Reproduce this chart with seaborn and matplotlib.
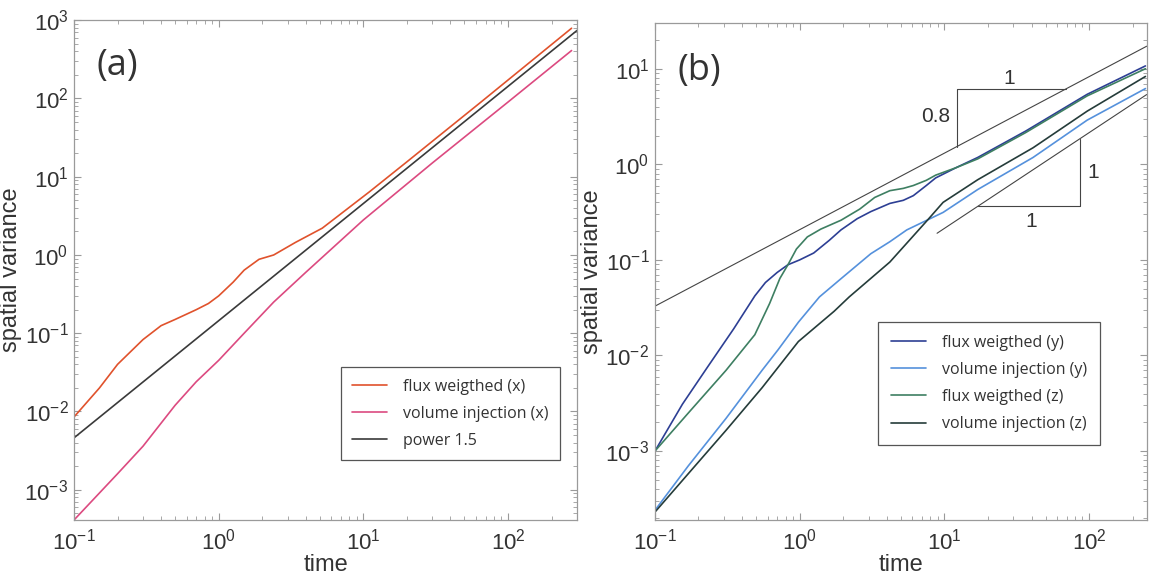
import numpy as np
import pandas as pd
import matplotlib
matplotlib.use("Agg")
import matplotlib.pyplot as plt
import seaborn as sns
from matplotlib.ticker import LogLocator, NullFormatter

# ---------------- panel (a) data ----------------
t_a_flux = [0.1, 0.15, 0.2, 0.3, 0.4, 0.5, 0.7, 0.85, 1.0, 1.26, 1.5, 1.9, 2.4, 3.4, 5.2, 11, 20, 66, 275]
y_a_flux = [0.0085, 0.02, 0.04, 0.083, 0.125, 0.15, 0.2, 0.24, 0.3, 0.45, 0.64, 0.88, 1.0, 1.45, 2.2, 6.4, 15.5, 92, 790]

t_a_vol = [0.1, 0.2, 0.3, 0.5, 0.7, 1.0, 1.5, 2.4, 4, 10, 30, 100, 275]
y_a_vol = [4.1e-4, 1.6e-3, 3.6e-3, 0.012, 0.024, 0.045, 0.1, 0.25, 0.6, 2.8, 15, 90, 410]

t_a_pow = [0.1, 300]
y_a_pow = [0.0046, 740]

labels_a = ["flux weigthed (x)", "volume injection (x)", "power 1.5"]
colors_a = ["#e0522c", "#dc4a80", "#3a3a3a"]

# ---------------- panel (b) data ----------------
t_b_flux_y = [0.1, 0.155, 0.23, 0.35, 0.49, 0.58, 0.7, 0.83, 1.0, 1.25, 1.6, 1.93, 2.5, 3.1, 4.2,
              5.2, 6.1, 7.5, 8.7, 12, 17, 36.5, 97, 245]
y_b_flux_y = [1.0e-3, 3.1e-3, 7.5e-3, 0.019, 0.042, 0.058, 0.074, 0.089, 0.100, 0.118, 0.16, 0.206,
              0.27, 0.32, 0.39, 0.42, 0.47, 0.6, 0.72, 0.92, 1.18, 2.23, 5.4, 10.7]

t_b_vol_y = [0.1, 0.17, 0.31, 0.55, 0.71, 0.98, 1.37, 1.94, 3.1, 4.2, 5.5, 9.8, 17, 41, 97, 245]
y_b_vol_y = [2.4e-4, 7.0e-4, 2.2e-3, 7.0e-3, 0.0115, 0.0223, 0.041, 0.064, 0.116, 0.155, 0.206,
             0.314, 0.545, 1.18, 2.9, 6.2]

t_b_flux_z = [0.1, 0.17, 0.31, 0.49, 0.62, 0.73, 0.83, 0.95, 1.13, 1.4, 1.93, 2.6, 3.3, 4.2, 5.2,
              6.1, 7.5, 8.7, 12, 17, 36.5, 97, 245]
y_b_flux_z = [1.0e-3, 2.5e-3, 7.0e-3, 0.0165, 0.035, 0.064, 0.089, 0.13, 0.174, 0.21, 0.26, 0.34,
              0.45, 0.53, 0.56, 0.6, 0.68, 0.77, 0.92, 1.14, 2.15, 5.2, 10.0]

t_b_vol_z = [0.1, 0.17, 0.31, 0.55, 0.98, 1.73, 2.2, 3.1, 4.2, 7.7, 9.8, 17, 41, 97, 245]
y_b_vol_z = [2.3e-4, 5.8e-4, 1.65e-3, 4.6e-3, 0.014, 0.029, 0.041, 0.064, 0.095, 0.264, 0.40,
             0.69, 1.49, 3.6, 8.3]

labels_b = ["flux weigthed (y)", "volume injection (y)", "flux weigthed (z)", "volume injection (z)"]
colors_b = ["#2d3f94", "#5591dc", "#3e7f62", "#253c3a"]

# reference slope lines in (b)
t_b_slope08 = [0.1, 250]
y_b_slope08 = [0.0328, 17.2]
t_b_slope1 = [8.9, 250]
y_b_slope1 = [0.19, 5.37]

# slope triangles in (b)
tri_up_t = [12.2, 12.2, 69]
tri_up_y = [1.53, 6.2, 6.2]
tri_lo_t = [17, 86.5, 86.5]
tri_lo_y = [0.363, 0.363, 1.86]
tri_labels = ["1", "0.8", "1", "1"]
tri_label_t = [28, 11.0, 98, 40]
tri_label_y = [7.9, 3.2, 0.83, 0.25]

# ---------------- style ----------------
sns.set_theme(style="white")
plt.rcParams['font.family'] = ['Liberation Sans', 'DejaVu Sans']
plt.rcParams['mathtext.default'] = 'regular'
plt.rcParams['axes.unicode_minus'] = True

fig = plt.figure(figsize=(11.49, 5.78), dpi=100)
ax_a = fig.add_axes([0.0644, 0.1003, 0.4378, 0.8647])
ax_b = fig.add_axes([0.570, 0.1003, 0.428, 0.8597])

def style_axes(ax):
    ax.set_xscale('log')
    ax.set_yscale('log')
    for s in ax.spines.values():
        s.set_color('#9a9a9a')
        s.set_linewidth(0.9)
    ax.xaxis.set_major_locator(LogLocator(base=10, numticks=20))
    ax.yaxis.set_major_locator(LogLocator(base=10, numticks=20))
    ax.xaxis.set_minor_locator(LogLocator(base=10, subs=np.arange(2, 10), numticks=100))
    ax.yaxis.set_minor_locator(LogLocator(base=10, subs=np.arange(2, 10), numticks=100))
    ax.xaxis.set_minor_formatter(NullFormatter())
    ax.yaxis.set_minor_formatter(NullFormatter())
    ax.tick_params(which='both', direction='in', top=True, right=True, bottom=True, left=True,
                   color='#9a9a9a', labelcolor='#333333', labelsize=16)
    ax.tick_params(which='major', length=5, width=0.8, pad=6)
    ax.tick_params(which='minor', length=3, width=0.6)
    ax.tick_params(axis='y', which='major', pad=4)
    ax.set_xlabel('time', fontsize=17, color='#333333', labelpad=0)
    ax.set_ylabel('spatial variance', fontsize=17, color='#333333', labelpad=2)

# ---------------- panel (a) ----------------
series_a = [(t_a_flux, y_a_flux), (t_a_vol, y_a_vol), (t_a_pow, y_a_pow)]
for (t, y), lab, col in zip(series_a, labels_a, colors_a):
    sns.lineplot(x=t, y=y, ax=ax_a, color=col, linewidth=1.2, label=lab,
                 estimator=None, sort=False)
style_axes(ax_a)
ax_a.set_xlim(0.1, 300)
ax_a.set_ylim(4.1e-4, 1e3)
ax_a.text(0.045, 0.945, '(a)', transform=ax_a.transAxes, fontsize=26,
          family=['Open Sans', 'DejaVu Sans'], color='#333333', va='top', ha='left')
leg_a = ax_a.legend(loc='lower right', bbox_to_anchor=(0.982, 0.104), frameon=True,
                    fancybox=False, edgecolor='#555555', framealpha=1,
                    prop={'family': ['Open Sans', 'DejaVu Sans'], 'size': 11.5},
                    handlelength=2.2, labelspacing=0.7, borderpad=0.7, handletextpad=1.0)
leg_a.get_frame().set_linewidth(0.9)
for txt in leg_a.get_texts():
    txt.set_color('#333333')

# ---------------- panel (b) ----------------
sns.lineplot(x=t_b_slope08, y=y_b_slope08, ax=ax_b, color='#444444', linewidth=0.8,
             estimator=None, sort=False, legend=False)
sns.lineplot(x=t_b_slope1, y=y_b_slope1, ax=ax_b, color='#444444', linewidth=0.8,
             estimator=None, sort=False, legend=False)
ax_b.plot(tri_up_t, tri_up_y, color='#444444', linewidth=0.8)
ax_b.plot(tri_lo_t, tri_lo_y, color='#444444', linewidth=0.8)
for lab, tt, yy in zip(tri_labels, tri_label_t, tri_label_y):
    ha = 'right' if lab == '0.8' else 'center'
    if lab == '1' and tt > 90:
        ha = 'left'
    ax_b.text(tt, yy, lab, fontsize=15, color='#333333', ha=ha, va='center')

series_b = [(t_b_flux_y, y_b_flux_y), (t_b_vol_y, y_b_vol_y),
            (t_b_flux_z, y_b_flux_z), (t_b_vol_z, y_b_vol_z)]
for (t, y), lab, col in zip(series_b, labels_b, colors_b):
    sns.lineplot(x=t, y=y, ax=ax_b, color=col, linewidth=1.2, label=lab,
                 estimator=None, sort=False)
style_axes(ax_b)
ax_b.set_xlim(0.1, 250)
ax_b.set_ylim(1.9e-4, 30)
ax_b.text(0.045, 0.94, '(b)', transform=ax_b.transAxes, fontsize=26,
          family=['Open Sans', 'DejaVu Sans'], color='#333333', va='top', ha='left')
leg_b = ax_b.legend(loc='lower right', bbox_to_anchor=(0.921, 0.135), frameon=True,
                    fancybox=False, edgecolor='#555555', framealpha=1,
                    prop={'family': ['Open Sans', 'DejaVu Sans'], 'size': 11.5},
                    handlelength=2.2, labelspacing=0.7, borderpad=0.8, handletextpad=1.0)
leg_b.get_frame().set_linewidth(0.9)
for txt in leg_b.get_texts():
    txt.set_color('#333333')

fig.savefig('out.png', dpi=100)
